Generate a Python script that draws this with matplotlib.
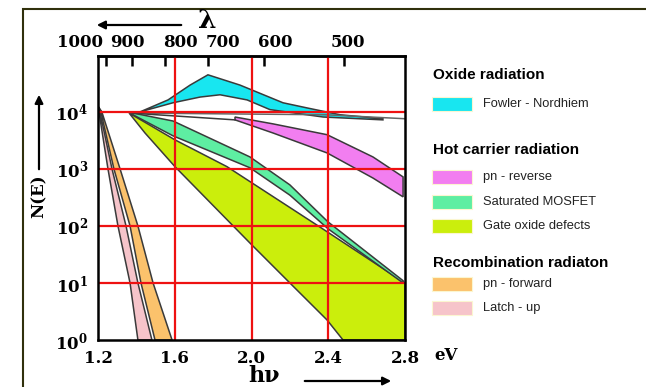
"""
Light emission spectra of IC failure mechanisms, N(E) vs photon energy,
with the wavelength scale along the top.
"""

import matplotlib
matplotlib.use("Agg")
import matplotlib.pyplot as plt
import matplotlib.patches as mpatches
import matplotlib.transforms as mtransforms
import numpy as np

plt.rcParams['mathtext.fontset'] = 'custom'
plt.rcParams['mathtext.bf'] = 'DejaVu Serif:bold'
plt.rcParams['mathtext.rm'] = 'DejaVu Serif'

SERIF = dict(family='DejaVu Serif', weight='bold')
SANS = 'Liberation Sans'

# photon energy (eV) and log10 N(E)

# Fowler - Nordhiem (cyan)
fn_up_E  = [1.419, 1.565, 1.680, 1.773, 1.940, 2.164, 2.289, 2.461, 2.685]
fn_up_lg = [4.00, 4.21, 4.47, 4.65, 4.47, 4.16, 4.07, 3.95, 3.88]
fn_lo_E  = [1.419, 1.591, 1.732, 1.836, 1.977, 2.096, 2.373, 2.685]
fn_lo_lg = [4.00, 4.16, 4.26, 4.30, 4.21, 4.04, 3.91, 3.86]

# pn - reverse (violet)
pnr_E     = [1.914, 2.112, 2.394, 2.633, 2.790]
pnr_up_lg = [3.91, 3.79, 3.60, 3.21, 2.86]
pnr_lo_lg = [3.86, 3.63, 3.28, 2.84, 2.51]

# saturated MOSFET (green)
mos_E     = [1.382, 1.591, 1.992, 2.200, 2.399, 2.790]
mos_up_lg = [3.98, 3.84, 3.21, 2.72, 2.07, 1.04]
mos_lo_lg = [3.95, 3.58, 3.02, 2.54, 1.95, 1.00]

# gate oxide defects (yellow)
gox_up_E  = [1.362, 1.601, 1.872, 2.357, 2.800]
gox_up_lg = [3.98, 3.51, 3.04, 1.98, 1.00]
gox_lo_E  = [1.362, 1.445, 1.601, 1.992, 2.200, 2.394, 2.477, 2.800]
gox_lo_lg = [3.98, 3.63, 3.04, 1.70, 1.00, 0.35, 0.00, 0.00]

# steep recombination bands, energy of each edge at these log10 N(E) levels
rec_lg     = [4.10, 4.0, 3.0, 2.0, 1.0, 0.0]
latch_l_E  = [1.200, 1.205, 1.252, 1.304, 1.367, 1.408]
latch_r_E  = [1.200, 1.210, 1.273, 1.346, 1.408, 1.481]
pnf_l_E    = [1.200, 1.215, 1.283, 1.367, 1.424, 1.497]
pnf_r_E    = [1.200, 1.220, 1.315, 1.408, 1.487, 1.586]

# thin boundary lines starting at the common origin
flat_E  = [1.367, 2.383, 2.800]
flat_lg = [3.98, 3.95, 3.88]
pnr_in_E  = [1.367, 1.914]
pnr_in_lg = [3.98, 3.86]

x_ticks = [1.2, 1.6, 2.0, 2.4, 2.8]
x_ticklabels = ['1.2', '1.6', '2.0', '2.4', '2.8']
y_ticks = [1, 10, 100, 1000, 10000]
y_ticklabels = [r'$\mathbf{10^{%d}}$' % k for k in range(5)]
lam_ticks = [1000, 900, 800, 700, 600, 500]

C_FN = '#18e6f0'
C_PNR = '#f27ef0'
C_MOS = '#5eeea2'
C_GOX = '#cbee0c'
C_PNF = '#fbc26c'
C_LATCH = '#f6c4ca'
EDGE = '#3a3a3a'

legend_groups = [
    ("Oxide radiation", [("Fowler - Nordhiem", C_FN)]),
    ("Hot carrier radiation", [("pn - reverse", C_PNR),
                               ("Saturated MOSFET", C_MOS),
                               ("Gate oxide defects", C_GOX)]),
    ("Recombination radiaton", [("pn - forward", C_PNF),
                                ("Latch - up", C_LATCH)]),
]

W, H = 646, 387
fig = plt.figure(figsize=(W / 100, H / 100), dpi=100)


def px(x, y):
    # pixel position in the picture -> figure fraction
    return x / W, 1 - y / H


ax = fig.add_axes([98 / W, 1 - 340 / H, 307 / W, 284 / H])
ax.set_yscale('log')
ax.set_xlim(1.2, 2.8)
ax.set_ylim(1, 10 ** 4.98)


def band(xs_up, lg_up, xs_lo, lg_lo, color):
    xs = list(xs_up) + list(xs_lo)[::-1]
    ys = 10.0 ** np.array(list(lg_up) + list(lg_lo)[::-1])
    ax.fill(xs, ys, facecolor=color, edgecolor=EDGE, linewidth=1.1, zorder=2)


band(gox_up_E, gox_up_lg, gox_lo_E, gox_lo_lg, C_GOX)
band(mos_E, mos_up_lg, mos_E, mos_lo_lg, C_MOS)
band(pnr_E, pnr_up_lg, pnr_E, pnr_lo_lg, C_PNR)
band(fn_up_E, fn_up_lg, fn_lo_E, fn_lo_lg, C_FN)
band(latch_l_E, rec_lg, latch_r_E, rec_lg, C_LATCH)
band(pnf_l_E, rec_lg, pnf_r_E, rec_lg, C_PNF)

ax.plot(flat_E, 10.0 ** np.array(flat_lg), color='#666666', lw=1.1, zorder=2.5)
ax.plot(pnr_in_E, 10.0 ** np.array(pnr_in_lg), color=EDGE, lw=1.1, zorder=2.5)

# red grid over the bands
for xv in x_ticks[1:-1]:
    ax.axvline(xv, color='#ee1111', lw=1.6, zorder=4)
for yv in y_ticks[1:]:
    ax.axhline(yv, color='#ee1111', lw=1.6, zorder=4)

ax.set_xticks(x_ticks)
ax.set_xticklabels(x_ticklabels, fontsize=12, **SERIF)
ax.set_yticks(y_ticks)
ax.set_yticklabels(y_ticklabels, fontsize=12)
ax.yaxis.set_minor_locator(matplotlib.ticker.NullLocator())
ax.tick_params(axis='x', length=0, pad=7)
ax.tick_params(axis='y', length=0, pad=7)
for sp in ax.spines.values():
    sp.set_linewidth(1.8)
    sp.set_zorder(5)

# wavelength scale on top
sec = ax.secondary_xaxis('top', functions=(lambda e: 1240.0 / e, lambda l: 1240.0 / l))
sec.set_xticks(lam_ticks)
sec.set_xticklabels([str(v) for v in lam_ticks], fontsize=12, **SERIF)
sec.tick_params(direction='in', length=7, width=1.8, pad=3.5)
sec.spines['top'].set_linewidth(1.8)
label_shift = [-26, -5, 15, 15, 11, 4]
for lab, dx in zip(sec.xaxis.get_majorticklabels(), label_shift):
    lab.set_transform(lab.get_transform() +
                      mtransforms.ScaledTranslation(dx / 100, 0, fig.dpi_scale_trans))

# axis captions and arrows
fig.text(*px(446, 355), 'eV', fontsize=12, ha='center', va='center', **SERIF)
fig.text(*px(264, 376), 'h\u03bd', fontsize=16, ha='center', va='center', **SERIF)
fig.text(*px(207, 21), '\u03bb', fontsize=19, ha='center', va='center', **SERIF)
fig.text(*px(39, 196), 'N(E)', fontsize=12, ha='center', va='center', rotation=90,
         **SERIF)
arrow = dict(arrowstyle='-|>', color='black', lw=1.6, mutation_scale=12)
fig.add_artist(mpatches.FancyArrowPatch(px(302, 381), px(394, 381),
                                        transform=fig.transFigure, **arrow))
fig.add_artist(mpatches.FancyArrowPatch(px(184, 25), px(94, 25),
                                        transform=fig.transFigure, **arrow))
fig.add_artist(mpatches.FancyArrowPatch(px(39, 172), px(39, 92),
                                        transform=fig.transFigure, **arrow))

# outer frame, cut by the picture edges
x0, y0 = px(23, 9)
fig.add_artist(mpatches.Rectangle((x0, -0.2), 1.5, y0 + 0.2, transform=fig.transFigure,
                                  fill=False, edgecolor='#30300c', lw=1.5))

# legend blocks
header_y = [75, 150, 263]
row_y = [[104], [177, 202, 226], [284, 308]]
for (head, rows), hy, ys in zip(legend_groups, header_y, row_y):
    fig.text(*px(433, hy), head, fontsize=11, weight='bold', family=SANS,
             ha='left', va='center')
    for (name, col), ry in zip(rows, ys):
        rx, rb = px(432, ry + 7)
        fig.add_artist(mpatches.Rectangle((rx, rb), 40 / W, 14 / H,
                                          transform=fig.transFigure,
                                          facecolor=col, edgecolor='#fbf6d0', lw=0.8))
        fig.text(*px(483, ry), name, fontsize=9.3, family=SANS, color='#222222',
                 ha='left', va='center')

fig.savefig('out.png', dpi=100)
